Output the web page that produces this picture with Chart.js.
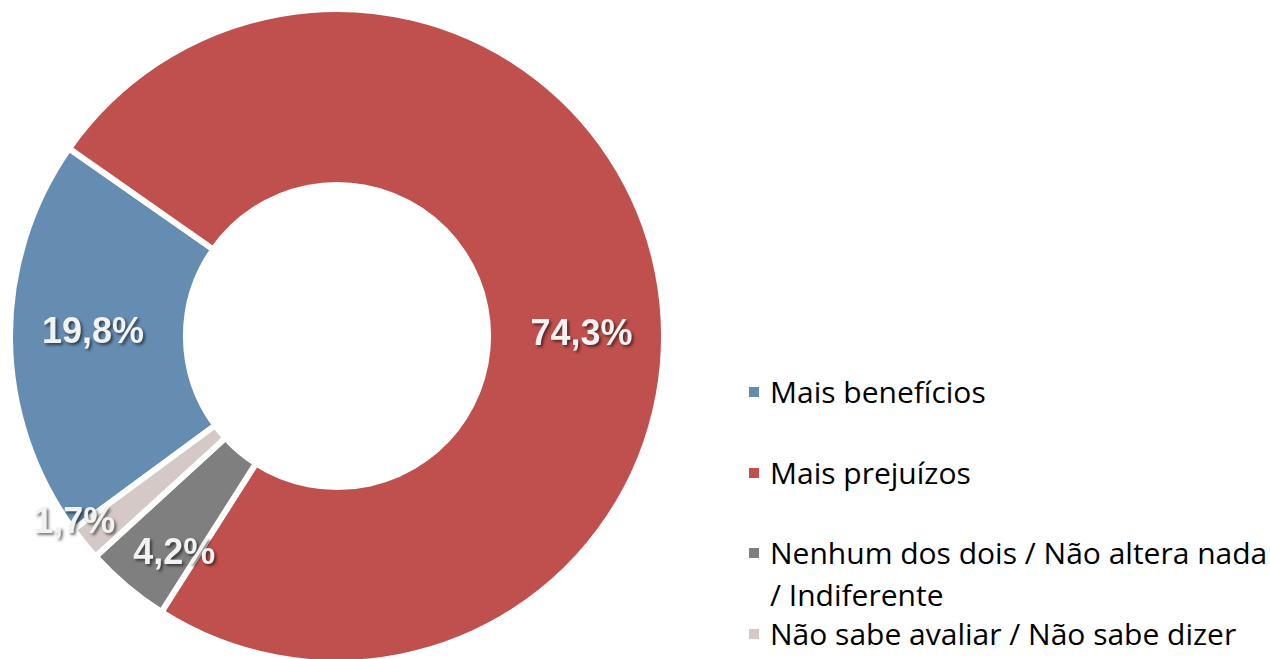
<!DOCTYPE html>
<html>
<head>
<meta charset="utf-8">
<script src="https://cdn.jsdelivr.net/npm/chart.js@4"></script>
<style>
  html, body { margin: 0; padding: 0; background: #fff; overflow: hidden; }
  body { width: 1270px; height: 659px; position: relative; }
  #wrap { position: absolute; left: 7px; top: 6px; width: 660px; height: 660px; }
  #legend { position: absolute; left: 749px; top: 0; width: 521px; height: 659px;
    font-family: "Open Sans", Lato, sans-serif; font-size: 30px; color: #000; }
  .item { position: absolute; left: 0; display: flex; align-items: flex-start; line-height: 42px; }
  .box { width: 10px; height: 10px; margin-top: 16px; margin-right: 11px; flex: none; }
  .txt { width: 500px; }
</style>
</head>
<body>
<div id="wrap"><canvas id="c"></canvas></div>
<div id="legend"></div>
<script>
const labels = ['Mais benefícios', 'Mais prejuízos', 'Nenhum dos dois / Não altera nada / Indiferente', 'Não sabe avaliar / Não sabe dizer'];
const shares = [19.8, 74.3, 4.2, 1.7];
const colours = ['#658cb1', '#c0504d', '#7f7f7f', '#d4c9c6'];

// Excel "best fit" puts labels off the centroid a bit; px nudges per slice
const labelNudge = [[-5, -6], [10, 46], [-9, 35], [-78, 35]];

const fmt = (v) => v.toFixed(1).replace('.', ',') + '%';

const sliceLabels = {
  id: 'sliceLabels',
  afterDatasetsDraw(chart) {
    const { ctx } = chart;
    const arcs = chart.getDatasetMeta(0).data;
    ctx.save();
    ctx.font = 'bold 36px "Liberation Sans", Arial, sans-serif';
    ctx.textAlign = 'center';
    ctx.textBaseline = 'middle';
    ctx.shadowColor = 'rgba(0,0,0,0.55)';
    ctx.shadowBlur = 3;
    ctx.shadowOffsetX = 2;
    ctx.shadowOffsetY = 2;
    ctx.fillStyle = '#f2f2f2';
    arcs.forEach((arc, i) => {
      const p = arc.tooltipPosition();
      const [dx, dy] = labelNudge[i];
      ctx.fillText(fmt(shares[i]), p.x + dx, p.y + dy);
    });
    ctx.restore();
  },
};

new Chart(document.getElementById('c'), {
  type: 'doughnut',
  data: {
    labels,
    datasets: [{
      data: shares,
      backgroundColor: colours,
      borderColor: '#ffffff',
      borderWidth: 6,
    }],
  },
  options: {
    responsive: true,
    maintainAspectRatio: false,
    animation: false,
    rotation: -126.3,
    cutout: '46.2%',
    layout: { padding: 0 },
    plugins: { legend: { display: false }, tooltip: { enabled: false } },
  },
  plugins: [sliceLabels],
});

// legend as html so the long label can wrap like the original
const legend = document.getElementById('legend');
labels.forEach((lab, i) => {
  const item = document.createElement('div');
  item.className = 'item';
  item.style.top = (392 - 21 + i * 80.5) + 'px';
  const box = document.createElement('span');
  box.className = 'box';
  box.style.background = colours[i];
  const txt = document.createElement('span');
  txt.className = 'txt';
  txt.textContent = lab;
  item.appendChild(box);
  item.appendChild(txt);
  legend.appendChild(item);
});
</script>
</body>
</html>
